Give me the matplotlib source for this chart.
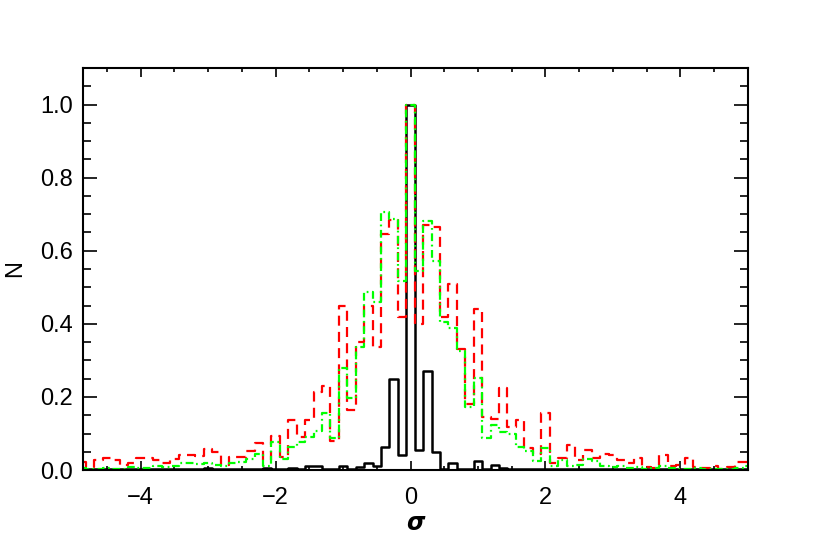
import numpy as np
import matplotlib
matplotlib.use('Agg')
import matplotlib.pyplot as plt
from matplotlib.ticker import MultipleLocator, FormatStrFormatter

# bin centres: k * 0.125, k = -39 .. 40
bin_index = list(range(-39, 41))
bin_width = 0.125

n_black = [0.003, 0.003, 0.002, 0.003, 0.004, 0.002, 0.003, 0.002, 0.004, 0.003,
           0.002, 0.003, 0.004, 0.002, 0.003, 0.005, 0.003, 0.002, 0.004, 0.003,
           0.004, 0.003, 0.005, 0.003, 0.004, 0.006, 0.004, 0.012, 0.012, 0.004,
           0.003, 0.010, 0.003, 0.008, 0.018, 0.012, 0.062, 0.250, 0.040, 1.000,
           0.055, 0.270, 0.050, 0.003, 0.018, 0.004, 0.003, 0.025, 0.004, 0.013,
           0.006, 0.003, 0.004, 0.002, 0.003, 0.004, 0.002, 0.003, 0.004, 0.002,
           0.003, 0.004, 0.002, 0.003, 0.002, 0.003, 0.004, 0.002, 0.003, 0.002,
           0.004, 0.003, 0.002, 0.003, 0.002, 0.003, 0.002, 0.003, 0.002, 0.003]

n_red = [0.022, 0.008, 0.027, 0.032, 0.027, 0.015, 0.018, 0.032, 0.032, 0.027,
         0.020, 0.030, 0.041, 0.041, 0.038, 0.057, 0.050, 0.014, 0.036, 0.036,
         0.053, 0.075, 0.027, 0.093, 0.036, 0.136, 0.090, 0.136, 0.213, 0.230,
         0.080, 0.450, 0.163, 0.350, 0.450, 0.336, 0.645, 0.685, 0.420, 1.000,
         0.400, 0.670, 0.665, 0.420, 0.510, 0.330, 0.180, 0.440, 0.145, 0.140,
         0.225, 0.118, 0.136, 0.060, 0.045, 0.155, 0.020, 0.034, 0.068, 0.027,
         0.054, 0.032, 0.045, 0.040, 0.027, 0.018, 0.032, 0.009, 0.005, 0.041,
         0.011, 0.014, 0.032, 0.009, 0.005, 0.010, 0.004, 0.008, 0.023, 0.023]

n_green = [0.005, 0.003, 0.004, 0.006, 0.003, 0.004, 0.008, 0.005, 0.006, 0.010,
           0.008, 0.012, 0.020, 0.018, 0.016, 0.020, 0.015, 0.012, 0.018, 0.022,
           0.030, 0.044, 0.010, 0.077, 0.030, 0.062, 0.077, 0.090, 0.107, 0.155,
           0.087, 0.280, 0.196, 0.336, 0.486, 0.460, 0.706, 0.687, 0.518, 1.000,
           0.545, 0.681, 0.572, 0.404, 0.390, 0.327, 0.172, 0.252, 0.087, 0.124,
           0.103, 0.100, 0.064, 0.052, 0.024, 0.059, 0.010, 0.027, 0.012, 0.014,
           0.030, 0.026, 0.012, 0.008, 0.010, 0.005, 0.007, 0.004, 0.006, 0.012,
           0.005, 0.004, 0.003, 0.006, 0.002, 0.004, 0.003, 0.002, 0.006, 0.012]

x = np.array(bin_index) * bin_width

plt.rcParams['font.family'] = ['Liberation Sans', 'DejaVu Sans']

fig = plt.figure(figsize=(8.3, 5.53), dpi=100)
ax = fig.add_axes([0.1, 0.15, 0.801, 0.727])

ax.step(x, n_black, where='mid', color='black', lw=1.8)
ax.step(x, n_red, where='mid', color='red', lw=1.6, dashes=(4.5, 2.8))
ax.step(x, n_green, where='mid', color='#00ff00', lw=1.6, dashes=(3.5, 1.6, 0.8, 1.6))

ax.set_xlim(-4.855, 5.0)
ax.set_ylim(0, 1.1)

ax.xaxis.set_major_locator(MultipleLocator(2))
ax.xaxis.set_minor_locator(MultipleLocator(0.5))
ax.yaxis.set_major_locator(MultipleLocator(0.2))
ax.yaxis.set_minor_locator(MultipleLocator(0.05))
ax.yaxis.set_major_formatter(FormatStrFormatter('%.1f'))

ax.tick_params(which='both', direction='in', top=True, right=True, width=1.2, labelsize=17)
ax.tick_params(axis='x', which='major', length=6.7, pad=12)
ax.tick_params(axis='x', which='minor', length=3.1)
ax.tick_params(axis='y', which='major', length=10, pad=7)
ax.tick_params(axis='y', which='minor', length=5.5)
for s in ax.spines.values():
    s.set_linewidth(1.5)

ax.set_xlabel('σ', fontsize=17, fontweight='bold', style='italic',
              family=['DejaVu Sans'], labelpad=2)
ax.set_ylabel('N', fontsize=17, labelpad=10)

fig.savefig('out.png', dpi=100)
